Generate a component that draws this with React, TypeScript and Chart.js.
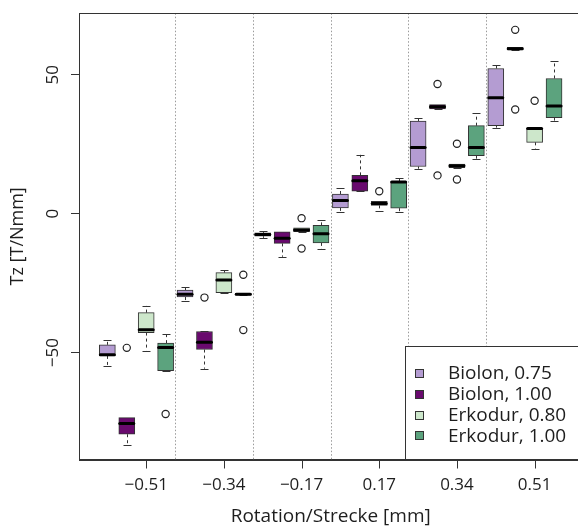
import React, { useEffect, useRef } from "react";
import { Chart, registerables } from "chart.js";

Chart.register(...registerables);

// ---- data ----
const groupLabels = ["−0.51", "−0.34", "−0.17", "0.17", "0.34", "0.51"];
const seriesNames = ["Biolon, 0.75", "Biolon, 1.00", "Erkodur, 0.80", "Erkodur, 1.00"];
const seriesColors = ["#B49CD2", "#690A6E", "#CDE7CB", "#5CA37E"];
const yTickValues = [-50, 0, 50];

// Biolon 0.75
const biolon075Low = [-54.8, -31.4, -8.7, 0.6, 16.2, 31.0];
const biolon075Q1 = [-51.2, -30.0, -8.1, 2.1, 17.0, 31.7];
const biolon075Median = [-50.8, -29.0, -7.5, 4.8, 23.8, 41.8];
const biolon075Q3 = [-47.2, -27.5, -6.9, 7.1, 33.4, 52.3];
const biolon075High = [-45.4, -26.5, -6.3, 9.2, 34.3, 53.5];
const biolon075Outliers: number[][] = [[], [], [], [], [], []];

// Biolon 1.00
const biolon100Low = [-83.1, -55.8, -15.5, 8.1, 37.7, 59.0];
const biolon100Q1 = [-79.4, -48.9, -10.7, 8.1, 37.7, 59.0];
const biolon100Median = [-75.5, -46.3, -8.8, 11.9, 38.5, 59.4];
const biolon100Q3 = [-73.4, -42.4, -6.5, 13.8, 39.3, 59.9];
const biolon100High = [-73.4, -42.4, -6.5, 21.2, 39.3, 59.9];
const biolon100Outliers: number[][] = [[-48.3], [-30.2], [], [], [46.7, 13.8], [66.2, 37.5]];

// Erkodur 0.80
const erkodur080Low = [-49.3, -28.4, -6.5, 1.1, 16.4, 23.4];
const erkodur080Q1 = [-42.8, -28.4, -6.5, 3.0, 16.6, 25.7];
const erkodur080Median = [-41.8, -23.9, -5.9, 3.7, 17.3, 30.7];
const erkodur080Q3 = [-35.6, -21.2, -5.1, 4.5, 17.9, 30.7];
const erkodur080High = [-33.2, -20.3, -5.1, 4.5, 17.9, 30.7];
const erkodur080Outliers: number[][] = [[], [], [-1.6, -12.5], [8.1], [25.2, 12.3], [40.7]];

// Erkodur 1.00
const erkodur100Low = [-56.5, -29.3, -12.8, 0.5, 19.7, 33.4];
const erkodur100Q1 = [-56.5, -29.3, -10.5, 2.0, 20.9, 34.6];
const erkodur100Median = [-48.2, -29.0, -7.2, 11.4, 23.8, 38.8];
const erkodur100Q3 = [-46.6, -28.7, -4.2, 11.6, 31.7, 48.7];
const erkodur100High = [-43.4, -28.7, -2.2, 12.8, 36.1, 55.0];
const erkodur100Outliers: number[][] = [[-72.1], [-22.0, -41.9], [], [], [], []];

const seriesStats = [
  { low: biolon075Low, q1: biolon075Q1, median: biolon075Median, q3: biolon075Q3, high: biolon075High, outliers: biolon075Outliers },
  { low: biolon100Low, q1: biolon100Q1, median: biolon100Median, q3: biolon100Q3, high: biolon100High, outliers: biolon100Outliers },
  { low: erkodur080Low, q1: erkodur080Q1, median: erkodur080Median, q3: erkodur080Q3, high: erkodur080High, outliers: erkodur080Outliers },
  { low: erkodur100Low, q1: erkodur100Q1, median: erkodur100Median, q3: erkodur100Q3, high: erkodur100High, outliers: erkodur100Outliers },
];

const nSeries = seriesNames.length;
const posOf = (g: number, s: number) => g * nSeries + s + 1;
const xTickValues = groupLabels.map((_, g) => g * nSeries + 3);

const FONT = "'Open Sans', 'DejaVu Sans', sans-serif";
const LINE = "#333333";
const BOX_W = 16;
const TICK_LEN = 8;

const boxPlugin = {
  id: "boxExtras",
  beforeDatasetsDraw(chart: any) {
    const { ctx, chartArea, scales } = chart;
    const x = scales.x;
    const y = scales.y;
    ctx.save();
    // dotted group separators
    ctx.strokeStyle = "#9a9a9a";
    ctx.lineWidth = 1;
    ctx.setLineDash([1.5, 2]);
    for (let g = 0; g < groupLabels.length - 1; g++) {
      const px = Math.round(x.getPixelForValue(g * nSeries + nSeries + 0.5)) + 0.5;
      ctx.beginPath();
      ctx.moveTo(px, chartArea.top);
      ctx.lineTo(px, chartArea.bottom);
      ctx.stroke();
    }
    // whiskers
    ctx.strokeStyle = LINE;
    seriesStats.forEach((st, s) => {
      groupLabels.forEach((_, g) => {
        const px = Math.round(x.getPixelForValue(posOf(g, s))) + 0.5;
        const yl = y.getPixelForValue(st.low[g]);
        const y1 = y.getPixelForValue(st.q1[g]);
        const y3 = y.getPixelForValue(st.q3[g]);
        const yh = y.getPixelForValue(st.high[g]);
        ctx.setLineDash([3, 3]);
        ctx.beginPath();
        ctx.moveTo(px, y3);
        ctx.lineTo(px, yh);
        ctx.moveTo(px, y1);
        ctx.lineTo(px, yl);
        ctx.stroke();
        ctx.setLineDash([]);
        ctx.beginPath();
        ctx.moveTo(px - BOX_W / 4, Math.round(yh) + 0.5);
        ctx.lineTo(px + BOX_W / 4, Math.round(yh) + 0.5);
        ctx.moveTo(px - BOX_W / 4, Math.round(yl) + 0.5);
        ctx.lineTo(px + BOX_W / 4, Math.round(yl) + 0.5);
        ctx.stroke();
      });
    });
    ctx.restore();
  },
  afterDatasetsDraw(chart: any) {
    const { ctx, chartArea, scales } = chart;
    const x = scales.x;
    const y = scales.y;
    ctx.save();
    // medians
    ctx.strokeStyle = "#000";
    ctx.lineWidth = 3;
    ctx.lineCap = "round";
    seriesStats.forEach((st, s) => {
      groupLabels.forEach((_, g) => {
        const px = x.getPixelForValue(posOf(g, s));
        const ym = y.getPixelForValue(st.median[g]);
        ctx.beginPath();
        ctx.moveTo(px - BOX_W / 2 + 1, ym);
        ctx.lineTo(px + BOX_W / 2 - 1, ym);
        ctx.stroke();
      });
    });
    ctx.lineCap = "butt";
    // legend (bottom right inside plot)
    const lw = 177;
    const lh = 114;
    const left = Math.round(chartArea.right - lw) + 0.5;
    const top = Math.round(chartArea.bottom - lh) + 0.5;
    ctx.fillStyle = "#fff";
    ctx.fillRect(left, top, chartArea.right - left, chartArea.bottom - top);
    ctx.strokeStyle = LINE;
    ctx.lineWidth = 1;
    ctx.strokeRect(left, top, chartArea.right - left + 5, chartArea.bottom - top);
    ctx.font = `19px ${FONT}`;
    ctx.textBaseline = "middle";
    ctx.textAlign = "left";
    seriesNames.forEach((name, i) => {
      const cy = top + 26.5 + i * 20.8;
      ctx.fillStyle = seriesColors[i];
      ctx.fillRect(left + 10, Math.round(cy - 4) + 0.5, 8, 8);
      ctx.strokeStyle = "#333";
      ctx.strokeRect(left + 10, Math.round(cy - 4) + 0.5, 8, 8);
      ctx.fillStyle = "#1e1e1e";
      ctx.fillText(name, left + 42.5, cy + 1);
    });
    // frame
    ctx.strokeStyle = LINE;
    const fb = Math.round(chartArea.bottom) + 0.5;
    ctx.strokeRect(
      Math.round(chartArea.left) + 0.5,
      Math.round(chartArea.top) + 0.5,
      chartArea.right - chartArea.left,
      fb - Math.round(chartArea.top) - 0.5
    );
    // x-axis tick marks (outside, below the frame)
    ctx.beginPath();
    xTickValues.forEach((v) => {
      const px = Math.round(x.getPixelForValue(v)) + 0.5;
      ctx.moveTo(px, fb);
      ctx.lineTo(px, fb + TICK_LEN);
    });
    ctx.stroke();
    ctx.restore();
  },
};

export default function App() {
  const canvasRef = useRef<HTMLCanvasElement | null>(null);

  useEffect(() => {
    const canvas = canvasRef.current;
    if (!canvas) return;

    const barDatasets = seriesStats.map((st, s) => ({
      type: "bar" as const,
      label: seriesNames[s],
      data: groupLabels.map((_, g) => ({ x: posOf(g, s), y: [st.q1[g], st.q3[g]] })),
      backgroundColor: seriesColors[s],
      borderColor: LINE,
      borderWidth: 1,
      borderSkipped: false,
      barThickness: BOX_W,
      grouped: false,
      order: 2,
    }));

    const outlierDatasets = seriesStats.map((st, s) => ({
      type: "scatter" as const,
      label: seriesNames[s] + " outliers",
      data: st.outliers.flatMap((vals, g) => vals.map((v) => ({ x: posOf(g, s), y: v }))),
      pointStyle: "circle",
      pointRadius: 3.6,
      pointBorderWidth: 1.2,
      pointBorderColor: "#222",
      pointBackgroundColor: "rgba(255,255,255,0)",
      showLine: false,
      order: 1,
    }));

    const chart = new Chart(canvas, {
      type: "bar",
      data: { datasets: [...barDatasets, ...outlierDatasets] as any },
      options: {
        animation: false,
        responsive: false,
        devicePixelRatio: 1,
        layout: { padding: { top: 11, right: 17.6, left: 0, bottom: 0 } },
        plugins: { legend: { display: false }, tooltip: { enabled: false } },
        scales: {
          x: {
            type: "linear",
            min: -0.46,
            max: 25.46,
            offset: false,
            afterBuildTicks: (scale: any) => {
              scale.ticks = xTickValues.map((v) => ({ value: v }));
            },
            afterFit: (scale: any) => {
              scale.height = 68.5;
            },
            ticks: {
              autoSkip: false,
              maxRotation: 0,
              minRotation: 0,
              padding: 7,
              color: "#1e1e1e",
              font: { family: FONT, size: 17 },
              callback: (_v: any, i: number) => groupLabels[i],
            },
            grid: {
              display: false,
              offset: false,
              drawOnChartArea: false,
              drawTicks: true,
              tickLength: TICK_LEN,
              color: LINE,
            },
            border: { display: true, color: LINE },
            title: {
              display: true,
              text: "Rotation/Strecke [mm]",
              color: "#1e1e1e",
              font: { family: FONT, size: 19 },
              padding: { top: 0, bottom: 0 },
            },
          },
          y: {
            type: "linear",
            min: -88.5,
            max: 72.2,
            afterBuildTicks: (scale: any) => {
              scale.ticks = yTickValues.map((v) => ({ value: v }));
            },
            afterFit: (scale: any) => {
              scale.width = 79;
            },
            ticks: {
              minRotation: 90,
              maxRotation: 90,
              crossAlign: "center",
              padding: 3,
              color: "#1e1e1e",
              font: { family: FONT, size: 17 },
              callback: (v: any) => (v < 0 ? "−" + Math.abs(v) : String(v)),
            },
            grid: {
              display: true,
              offset: false,
              drawOnChartArea: false,
              drawTicks: true,
              tickLength: TICK_LEN,
              color: LINE,
            },
            border: { display: true, color: LINE },
            title: {
              display: true,
              text: "Tz [T/Nmm]",
              color: "#1e1e1e",
              font: { family: FONT, size: 18 },
              padding: { top: 7, bottom: 0 },
            },
          },
        },
      },
      plugins: [boxPlugin],
    });

    return () => chart.destroy();
  }, []);

  return (
    <div
      style={{
        position: "absolute",
        left: 0,
        top: 0,
        width: 578,
        height: 528,
        overflow: "hidden",
        background: "#fff",
      }}
    >
      <canvas ref={canvasRef} width={600} height={528} style={{ display: "block" }} />
    </div>
  );
}
